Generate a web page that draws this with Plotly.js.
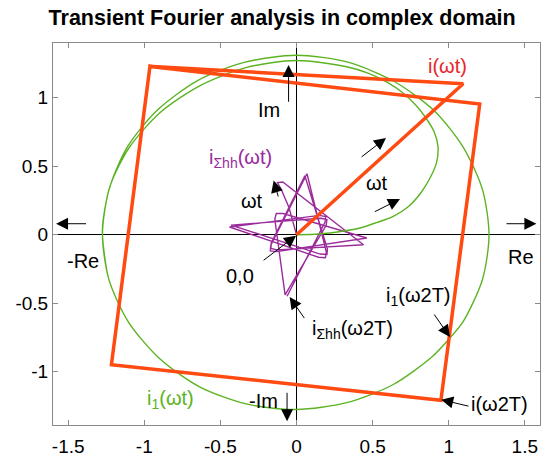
<!DOCTYPE html>
<html>
<head>
<meta charset="utf-8">
<script src="https://cdn.plot.ly/plotly-3.0.1.min.js"></script>
<style>html,body{margin:0;padding:0;background:#fff;}#chart{width:550px;height:469px;}</style>
</head>
<body>
<div id="chart"></div>
<script>
// i(ωt): current trajectory (Re, Im)
const iRe = [0, 1.095, -0.963, -1.216, 0.949, 1.204, -0.963, -1.216, 0.949];
const iIm = [0, 1.102, 1.229, -0.949, -1.21, 0.954, 1.229, -0.949, -1.21];

// i1(ωt): fundamental (transient spiral, then steady circle)
const i1Re = [0, 0.15, 0.3, 0.418, 0.53, 0.636, 0.74, 0.82, 0.885, 0.921, 0.93, 0.905, 0.855, 0.785, 0.70, 0.6, 0.47,
  0.329, 0.0, -0.327, -0.63, -0.894, -1.1, -1.219, -1.27,
  -1.275, -1.232, -1.104, -0.902, -0.64, -0.331, 0.0, 0.329, 0.633, 0.891, 1.008,
  1.096, 1.222, 1.265, 1.222, 1.096, 0.905, 0.645, 0.338, 0.0, -0.338, -0.65, -0.912, -1.111, -1.232,
  -1.275, -1.232, -1.104, -0.902, -0.64, -0.331, 0.0, 0.329, 0.633, 0.891, 1.008];
const i1Im = [0, 0.005, 0.025, 0.049, 0.09, 0.134, 0.21, 0.31, 0.43, 0.53, 0.64, 0.75, 0.845, 0.945, 1.035, 1.11, 1.18,
  1.227, 1.272, 1.222, 1.091, 0.894, 0.635, 0.373, 0.111,
  0.0, -0.33, -0.638, -0.902, -1.109, -1.236, -1.277, -1.227, -1.096, -0.891, -0.754,
  -0.633, -0.327, 0.0, 0.329, 0.638, 0.905, 1.117, 1.26, 1.31, 1.26, 1.126, 0.912, 0.642, 0.33,
  0.0, -0.33, -0.638, -0.902, -1.109, -1.236, -1.277, -1.227, -1.096, -0.891, -0.754];

// iΣhh(ωt): harmonic residual i - i1
const ihRe = [0, -0.05, -0.1, -0.125, -0.09, 0.44, -0.127, -0.168, -0.166, 0.055, 0.2035, 0.20, 0.155, -0.43, 0.16, 0.20, 0.195, -0.075,
  -0.1425, -0.133, -0.089, 0.462, -0.129, -0.172, -0.169, 0.069, 0.196, 0.19, 0.145, -0.44, 0.15, 0.192, 0.187, -0.062];
const ihIm = [0, 0.2, 0.33, 0.38, 0.385, -0.073, -0.111, -0.100, -0.061, 0.43, -0.1055, -0.144, -0.1415, 0.07, 0.12, 0.11, 0.0685, -0.44,
  0.1135, 0.155, 0.155, -0.024, -0.124, -0.118, -0.077, 0.445, -0.1265, -0.168, -0.165, 0.056, 0.141, 0.133, 0.09, -0.45];

const xTicks = [-1.5, -1, -0.5, 0, 0.5, 1, 1.5];
const yTicks = [-1, -0.5, 0, 0.5, 1];

const FONT = 'Liberation Sans, Arial, sans-serif';

const traces = [
  {x: ihRe, y: ihIm, mode: 'lines', line: {color: '#9a2c9c', width: 1.4}, hoverinfo: 'skip'},
  {x: i1Re, y: i1Im, mode: 'lines', line: {color: '#5cb322', width: 1.4, shape: 'spline', smoothing: 0.8}, hoverinfo: 'skip'},
  {x: iRe, y: iIm, mode: 'lines', line: {color: '#ff4a12', width: 3.5}, hoverinfo: 'skip'}
];

function arrow(x, y, ax, ay) {
  return {x: x, y: y, ax: ax, ay: ay, xref: 'x', yref: 'y', axref: 'x', ayref: 'y',
    text: '', showarrow: true, arrowhead: 2, arrowsize: 2.4, arrowwidth: 1, arrowcolor: '#000'};
}
function label(x, y, text, color, size) {
  return {x: x, y: y, xref: 'x', yref: 'y', text: text, showarrow: false,
    font: {family: FONT, size: size || 20, color: color || '#000'}};
}

const annotations = [
  arrow(-1.58, 0.08, -1.373, 0.08),
  arrow(1.576, 0.08, 1.37, 0.08),
  arrow(-0.052, 1.24, -0.052, 0.96),
  arrow(-0.062, -1.363, -0.062, -1.144),
  arrow(0.588, 0.706, 0.418, 0.56),
  arrow(0.68, 0.26, 0.505, 0.163),
  arrow(-0.15, 0.396, -0.117, 0.268),
  arrow(-0.003, -0.007, -0.226, -0.195),
  arrow(-0.045, -0.455, 0.058, -0.62),
  arrow(1.008, -0.747, 0.898, -0.572),
  arrow(0.951, -1.205, 1.14, -1.255),
  label(-0.18, 0.91, 'Im'),
  label(-0.216, -1.217, '-Im'),
  label(-1.406, -0.19, '-Re'),
  label(1.478, -0.163, 'Re'),
  label(0.99, 1.235, 'i(ωt)', '#e8262b'),
  label(-0.827, -1.204, 'i<sub>1</sub>(ωt)', '#5cb322'),
  label(-0.368, 0.56, 'i<sub>Σhh</sub>(ωt)', '#9a2c9c'),
  label(0.527, 0.377, 'ωt'),
  label(-0.29, 0.243, 'ωt'),
  label(-0.37, -0.30, '0,0'),
  label(0.37, -0.69, 'i<sub>Σhh</sub>(ω2T)'),
  label(0.80, -0.45, 'i<sub>1</sub>(ω2T)'),
  label(1.335, -1.235, 'i(ω2T)')
];

const axisCommon = {
  showgrid: false, zeroline: true, zerolinecolor: '#000', zerolinewidth: 1.6,
  showline: true, linecolor: '#8a8a8a', linewidth: 1, mirror: 'ticks',
  ticks: 'inside', ticklen: 5, tickcolor: '#8a8a8a', tickwidth: 1,
  tickfont: {family: FONT, size: 19, color: '#000'}, tickmode: 'array'
};

const layout = {
  width: 550, height: 469,
  margin: {l: 53, r: 10, t: 43, b: 44},
  paper_bgcolor: '#fff', plot_bgcolor: '#fff',
  showlegend: false,
  title: {text: '<b>Transient Fourier analysis in complex domain</b>', x: 0.513, xref: 'container', xanchor: 'center',
    y: 0.962, yref: 'container', yanchor: 'middle', font: {family: FONT, size: 21.5, color: '#000'}},
  xaxis: Object.assign({}, axisCommon, {range: [-1.6, 1.6], tickvals: xTicks, ticktext: xTicks.map(String), ticklabelstandoff: 4}),
  yaxis: Object.assign({}, axisCommon, {range: [-1.39, 1.4], tickvals: yTicks, ticktext: yTicks.map(String)}),
  annotations: annotations
};

Plotly.newPlot('chart', traces, layout, {displayModeBar: false, staticPlot: true});
</script>
</body>
</html>
